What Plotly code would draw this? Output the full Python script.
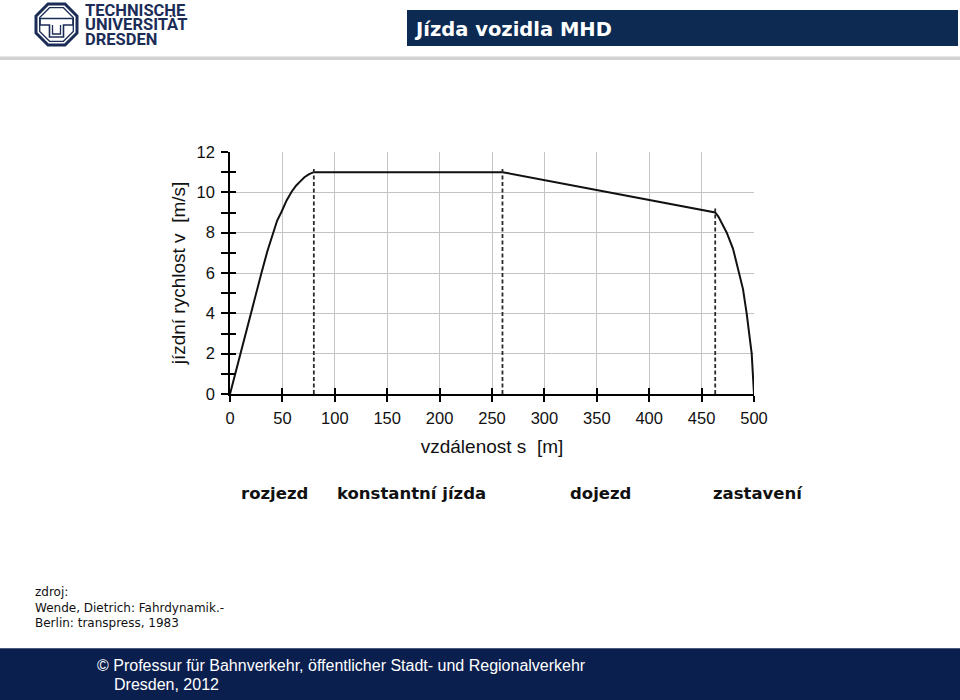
import math
import plotly.graph_objects as go

# ---------------- data ----------------
s_curve = [0, 9.8, 19.8, 30, 35.5, 41, 45, 49.3, 54, 58.8, 63, 66.8, 71, 75.5, 80,
           260, 463, 466, 469, 474, 480, 485.7, 489.5, 493, 495.5, 497.8, 500]
v_curve = [0, 2, 4, 6, 7.05, 8, 8.6, 9.05, 9.6, 10.03, 10.33, 10.53, 10.75, 10.9, 11,
           11, 9, 8.8, 8.5, 8, 7.2, 6, 5.2, 4, 3, 2, 0]

phase_s = [80, 260, 463]
phase_top = [11.2, 11.2, 9.2]

phase_labels = ["rozjezd", "konstantní jízda", "dojezd", "zastavení"]
phase_label_px = [274, 411, 600, 758]

x_title = "vzdálenost s\u00a0 [m]"
y_title = "jízdní rychlost v\u00a0 [m/s]"
chart_title = "Jízda vozidla MHD"
source_lines = ["zdroj:", "Wende, Dietrich: Fahrdynamik.-", "Berlin: transpress, 1983"]
footer_lines = ["© Professur für Bahnverkehr, öffentlicher Stadt- und Regionalverkehr", "Dresden, 2012"]
logo_lines = ["TECHNISCHE", "UNIVERSITÄT", "DRESDEN"]

# ---------------- layout geometry ----------------
W, H = 960, 700
L, R, T, B = 230, 754, 152, 394  # plot area in pixels


def X(p):
    return (p - L) / (R - L)


def Y(p):
    return (B - p) / (B - T)


NAVY_HEAD = "#0c2a52"
NAVY_FOOT = "#0b1f4f"
LOGO = "#1b2d57"

fig = go.Figure()

fig.add_trace(go.Scatter(x=s_curve, y=v_curve, mode="lines",
                         line=dict(color="#111111", width=2), hoverinfo="skip"))

for s, top in zip(phase_s, phase_top):
    fig.add_trace(go.Scatter(x=[s, s], y=[0, top], mode="lines",
                             line=dict(color="#2a2a2a", width=1.8, dash="4px,2.5px"),
                             hoverinfo="skip"))

# invisible helper trace for the overlay axes (inside tick halves)
fig.add_trace(go.Scatter(x=[None], y=[None], xaxis="x2", yaxis="y2", showlegend=False))

tickfont = dict(family="Liberation Sans, Arial", size=16.5, color="#111111")

fig.update_layout(
    width=W, height=H,
    margin=dict(l=L, r=W - R, t=T, b=H - B, pad=0),
    paper_bgcolor="white", plot_bgcolor="white",
    showlegend=False,
    xaxis=dict(range=[0, 500], dtick=50, tick0=0, showgrid=True, gridcolor="#c4c4c4", gridwidth=1,
               zeroline=False, showline=True, linecolor="black", linewidth=1.5,
               ticks="outside", ticklen=6, tickwidth=1.5, tickcolor="black",
               tickfont=tickfont, ticklabelstandoff=2, automargin=False,
               title=dict(text=x_title, font=dict(family="Liberation Sans, Arial", size=19, color="#111111"),
                          standoff=14)),
    yaxis=dict(range=[0, 12], dtick=2, tick0=0, showgrid=True, gridcolor="#c4c4c4", gridwidth=1,
               zeroline=False, showline=True, linecolor="black", linewidth=1.5,
               ticks="outside", ticklen=7, tickwidth=1.5, tickcolor="black",
               minor=dict(dtick=1, ticks="outside", ticklen=7, tickwidth=1.5, tickcolor="black", showgrid=False),
               tickfont=tickfont, ticklabelstandoff=3, automargin=False,
               title=dict(text=y_title, font=dict(family="Liberation Sans, Arial", size=19, color="#111111"),
                          standoff=6)),
    xaxis2=dict(range=[0, 500], dtick=50, tick0=0, overlaying="x", anchor="y", side="bottom",
                showgrid=False, zeroline=False, showline=False, showticklabels=False,
                ticks="inside", ticklen=6, tickwidth=1.5, tickcolor="black"),
    yaxis2=dict(range=[0, 12], dtick=2, tick0=0, overlaying="y", anchor="x", side="left",
                showgrid=False, zeroline=False, showline=False, showticklabels=False,
                ticks="inside", ticklen=6, tickwidth=1.5, tickcolor="black",
                minor=dict(dtick=1, ticks="inside", ticklen=6, tickwidth=1.5, tickcolor="black", showgrid=False)),
)

shapes = []
# header bar
shapes.append(dict(type="rect", xref="paper", yref="paper", x0=X(407), x1=X(958), y0=Y(10), y1=Y(46),
                   fillcolor=NAVY_HEAD, line=dict(width=0), layer="above"))
# gray divider
shapes.append(dict(type="rect", xref="paper", yref="paper", x0=X(0), x1=X(960), y0=Y(56.5), y1=Y(60),
                   fillcolor="#d2d2d2", line=dict(width=0), layer="above"))
# footer bar
shapes.append(dict(type="rect", xref="paper", yref="paper", x0=X(0), x1=X(960), y0=Y(648), y1=Y(700),
                   fillcolor=NAVY_FOOT, line=dict(width=0), layer="above"))
shapes.append(dict(type="line", xref="paper", yref="paper", x0=X(0), x1=X(960), y0=Y(648.5), y1=Y(648.5),
                   line=dict(color="#4a5a78", width=1), layer="above"))


def octagon(cx, cy, apothem):
    r = apothem / math.cos(math.radians(22.5))
    pts = []
    for k in range(8):
        a = math.radians(22.5 + 45 * k)
        pts.append((cx + r * math.cos(a), cy + r * math.sin(a)))
    return "M " + " L ".join(f"{X(px):.5f},{Y(py):.5f}" for px, py in pts) + " Z"


def poly(pts, close=False):
    d = "M " + " L ".join(f"{X(px):.5f},{Y(py):.5f}" for px, py in pts)
    return d + (" Z" if close else "")


cx, cy = 56.5, 24.5
shapes.append(dict(type="path", xref="paper", yref="paper", path=octagon(cx, cy, 20.5),
                   line=dict(color=LOGO, width=3), layer="above"))
shapes.append(dict(type="path", xref="paper", yref="paper", path=octagon(cx, cy, 16.8),
                   line=dict(color=LOGO, width=1.3), layer="above"))
shapes.append(dict(type="path", xref="paper", yref="paper",
                   path=poly([(40, 18.5), (73, 18.5), (73, 25), (63.5, 25), (63.5, 37), (49.5, 37),
                              (49.5, 25), (40, 25)], close=True),
                   line=dict(color=LOGO, width=1.6), layer="above"))
shapes.append(dict(type="path", xref="paper", yref="paper",
                   path=poly([(52.5, 25), (52.5, 34), (60.5, 34), (60.5, 25)]),
                   line=dict(color=LOGO, width=1.3), layer="above"))

fig.update_layout(shapes=shapes)

ann = []
ann.append(dict(text=f"<b>{chart_title}</b>", x=X(412), y=Y(29), xref="paper", yref="paper",
                xanchor="left", yanchor="middle", showarrow=False,
                font=dict(family="DejaVu Sans", size=19.5, color="white")))
for i, t in enumerate(logo_lines):
    ann.append(dict(text=f"<b>{t}</b>", x=X(83), y=Y(10 + 14.7 * i), xref="paper", yref="paper",
                    xanchor="left", yanchor="middle", showarrow=False,
                    font=dict(family="Roboto", size=16.5, color=LOGO)))
for t, px in zip(phase_labels, phase_label_px):
    ann.append(dict(text=f"<b>{t}</b>", x=X(px), y=Y(493), xref="paper", yref="paper",
                    xanchor="center", yanchor="middle", showarrow=False,
                    font=dict(family="DejaVu Sans", size=16.5, color="#111111")))
for i, t in enumerate(source_lines):
    ann.append(dict(text=t, x=X(33), y=Y(592 + 15.5 * i), xref="paper", yref="paper",
                    xanchor="left", yanchor="middle", showarrow=False,
                    font=dict(family="DejaVu Sans", size=12, color="#111111")))
ann.append(dict(text=footer_lines[0], x=X(95), y=Y(665), xref="paper", yref="paper",
                xanchor="left", yanchor="middle", showarrow=False,
                font=dict(family="Liberation Sans, Arial", size=16, color="white")))
ann.append(dict(text=footer_lines[1], x=X(112), y=Y(684), xref="paper", yref="paper",
                xanchor="left", yanchor="middle", showarrow=False,
                font=dict(family="Liberation Sans, Arial", size=16, color="white")))
fig.update_layout(annotations=ann)

fig.write_html("out.html", config={"displayModeBar": False},
               post_script="document.body.style.margin='0px';document.body.style.padding='0px';")
